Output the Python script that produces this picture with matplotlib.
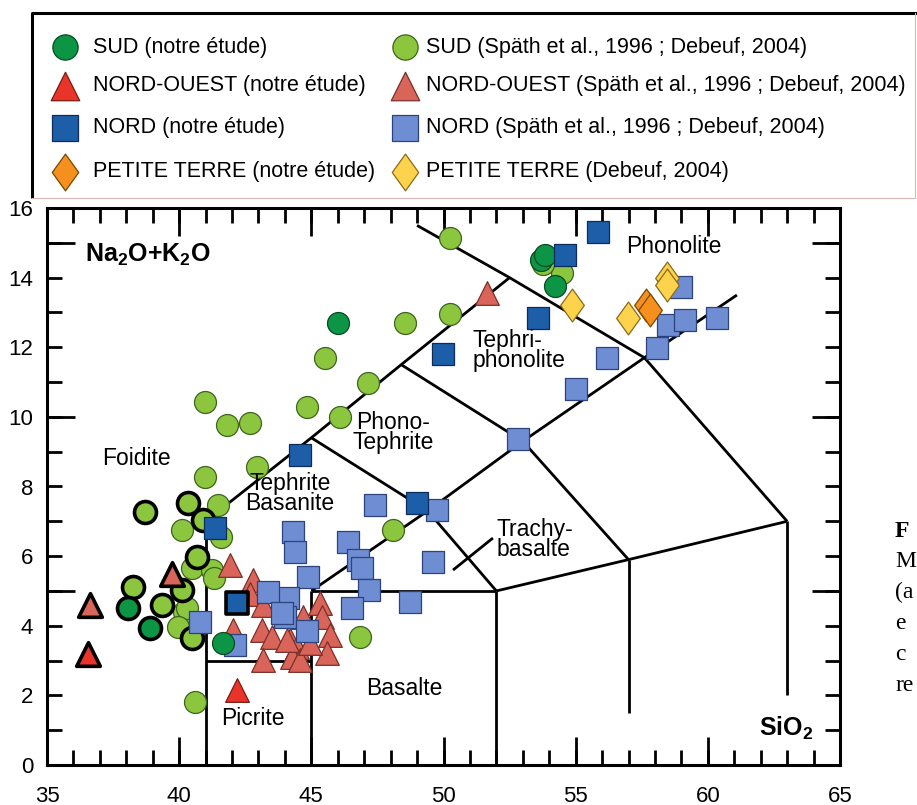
# TAS diagram (Na2O+K2O vs SiO2) - Mayotte samples
import matplotlib.pyplot as plt
from matplotlib.path import Path
from matplotlib.ticker import FuncFormatter

plt.rcParams['font.family'] = ['Liberation Sans', 'DejaVu Sans']
plt.rcParams['mathtext.fontset'] = 'custom'
plt.rcParams['mathtext.rm'] = 'Liberation Sans'
plt.rcParams['mathtext.bf'] = 'Liberation Sans:bold'

# ---- data (SiO2, Na2O+K2O) ----
# SUD (notre étude)
sud_x = [41.65, 46.0, 53.7, 53.85, 54.2]
sud_y = [3.5, 12.7, 14.5, 14.65, 13.75]
sud_hl_x = [38.05, 38.9]
sud_hl_y = [4.5, 3.94]

# SUD (Späth et al., 1996 ; Debeuf, 2004)
sud_lit_x = [40.97, 41.8, 42.67, 44.83, 46.08, 47.14, 42.94, 40.97, 41.47, 48.08,
             50.24, 48.54, 50.24, 45.5, 54.47, 53.75, 46.83, 40.1, 41.6, 40.5,
             41.25, 41.3, 40.2, 40.3, 39.95, 40.6]
sud_lit_y = [10.43, 9.77, 9.83, 10.29, 10.0, 10.98, 8.56, 8.28, 7.47, 6.75,
             15.14, 12.7, 12.96, 11.7, 14.14, 14.4, 3.68, 6.75, 6.55, 5.66,
             5.6, 5.37, 4.4, 4.5, 3.97, 1.81]
sud_lit_hl_x = [38.7, 40.33, 40.9, 40.67, 38.25, 40.1, 39.35, 40.5]
sud_lit_hl_y = [7.27, 7.53, 7.04, 5.98, 5.12, 5.03, 4.6, 3.65]

# NORD-OUEST (notre étude)
no_x = [42.2]
no_y = [2.15]
no_hl_x = [36.55]
no_hl_y = [3.2]

# NORD-OUEST (Späth et al., 1996 ; Debeuf, 2004)
no_lit_x = [41.92, 42.8, 42.68, 43.17, 42.03, 43.13, 43.5, 43.17, 44.19, 44.68,
            44.45, 44.26, 44.57, 45.32, 45.4, 45.7, 45.59, 44.94, 44.07, 51.63]
no_lit_y = [5.75, 5.32, 4.9, 4.6, 3.88, 3.88, 3.68, 3.02, 3.59, 4.25,
            3.39, 3.1, 3.02, 4.66, 4.25, 3.74, 3.22, 3.5, 3.59, 13.55]
no_lit_hl_x = [36.63, 39.73]
no_lit_hl_y = [4.6, 5.5]

# NORD (notre étude)
nord_x = [41.35, 44.57, 49.97, 53.56, 54.58, 55.83, 48.99]
nord_y = [6.8, 8.91, 11.81, 12.84, 14.65, 15.32, 7.53]
nord_hl_x = [42.18]
nord_hl_y = [4.66]

# NORD (Späth et al., 1996 ; Debeuf, 2004)
nord_lit_x = [47.4, 44.3, 44.38, 46.38, 46.76, 46.9, 49.74, 49.6, 44.87, 44.11,
              47.2, 46.53, 48.72, 44.0, 43.36, 43.9, 44.83, 40.78, 42.1, 56.17,
              58.06, 58.48, 59.12, 60.33, 59.0, 55.0, 52.8]
nord_lit_y = [7.47, 6.7, 6.12, 6.4, 5.89, 5.66, 7.33, 5.83, 5.4, 4.8,
              5.03, 4.51, 4.68, 4.25, 4.97, 4.37, 3.85, 4.1, 3.45, 11.7,
              11.98, 12.64, 12.79, 12.84, 13.73, 10.8, 9.37]

# PETITE TERRE (notre étude)
pt_x = [57.65, 57.8]
pt_y = [13.2, 13.08]

# PETITE TERRE (Debeuf, 2004)
pt_lit_x = [54.85, 56.97, 58.44, 58.44]
pt_lit_y = [13.22, 12.84, 14.0, 13.79]

# TAS field boundaries (Le Bas et al., 1986)
boundaries = [
    [(41, 0), (41, 7)],
    [(41, 3), (45, 3)],
    [(45, 0), (45, 5)],
    [(45, 5), (52, 5)],
    [(52, 0), (52, 5)],
    [(57, 1.5), (57, 5.9)],
    [(63, 2), (63, 7)],
    [(52, 5), (57, 5.9), (63, 7)],
    [(45, 5), (49.4, 7.3), (53, 9.3), (57.6, 11.7), (61.1, 13.5)],
    [(41, 7), (45, 9.4), (48.4, 11.5), (52.5, 14)],
    [(49.4, 7.3), (52, 5)],
    [(45, 9.4), (49.4, 7.3)],
    [(48.4, 11.5), (53, 9.3), (57, 5.9)],
    [(49, 15.5), (52.5, 14), (57.6, 11.7), (63, 7)],
    [(50.36, 5.6), (51.87, 6.52)],
]

field_names = ['Foidite', 'Tephrite\nBasanite', 'Phono-\nTephrite', 'Tephri-\nphonolite',
               'Phonolite', 'Trachy-\nbasalte', 'Basalte', 'Picrite']
field_x = [38.4, 44.2, 48.1, 51.1, 58.7, 52.0, 48.5, 42.8]
field_y = [8.8, 7.8, 9.55, 11.9, 14.9, 6.47, 2.2, 1.35]
field_ha = ['center', 'center', 'center', 'left', 'center', 'left', 'center', 'center']

# tall diamond marker
diamond = Path([(0, 1), (0.72, 0), (0, -1), (-0.72, 0), (0, 1)],
               [Path.MOVETO, Path.LINETO, Path.LINETO, Path.LINETO, Path.CLOSEPOLY])

# series styles: marker, face, edge, label
styles = {
    'sud': ('o', '#0c9545', '#0a4a22', 'SUD (notre étude)'),
    'sud_lit': ('o', '#8cc63f', '#3c6420', 'SUD (Späth et al., 1996 ; Debeuf, 2004)'),
    'no': ('^', '#e9342a', '#7a1a12', 'NORD-OUEST (notre étude)'),
    'no_lit': ('^', '#d9655a', '#7a3028', 'NORD-OUEST (Späth et al., 1996 ; Debeuf, 2004)'),
    'nord': ('s', '#1c5ea8', '#0d2c5a', 'NORD (notre étude)'),
    'nord_lit': ('s', '#6f8dd2', '#2c447e', 'NORD (Späth et al., 1996 ; Debeuf, 2004)'),
    'pt': (diamond, '#f5901e', '#7a4600', 'PETITE TERRE (notre étude)'),
    'pt_lit': (diamond, '#fdd34d', '#8a6a18', 'PETITE TERRE (Debeuf, 2004)'),
}
sizes = {'o': 250, 's': 250, '^': 290}

fig = plt.figure(figsize=(9.17, 8.05), dpi=100)
ax = fig.add_axes([47 / 917, 40 / 805, 793 / 917, 557 / 805])
ax.set_xlim(35, 65)
ax.set_ylim(0, 16)

for seg in boundaries:
    xs, ys = zip(*seg)
    ax.plot(xs, ys, color='black', lw=2.0, solid_capstyle='butt', zorder=2)


def draw(key, x, y, thick=False, z=3):
    m, fc, ec, _ = styles[key]
    s = sizes.get(m, 560) if isinstance(m, str) else 560
    ax.scatter(x, y, s=s, marker=m, facecolor=fc,
               edgecolor='black' if thick else ec,
               linewidths=2.6 if thick else 0.9, zorder=z, clip_on=False)


draw('sud_lit', sud_lit_x, sud_lit_y, z=3)
draw('sud_lit', sud_lit_hl_x, sud_lit_hl_y, thick=True, z=3)
draw('no_lit', no_lit_x, no_lit_y, z=4)
draw('no_lit', no_lit_hl_x, no_lit_hl_y, thick=True, z=4)
draw('nord_lit', nord_lit_x, nord_lit_y, z=5)
draw('pt_lit', pt_lit_x, pt_lit_y, z=5)
draw('sud', sud_x, sud_y, z=6)
draw('sud', sud_hl_x, sud_hl_y, thick=True, z=6)
draw('no', no_x, no_y, z=6)
draw('no', no_hl_x, no_hl_y, thick=True, z=6)
draw('nord', nord_x, nord_y, z=6)
draw('nord', nord_hl_x, nord_hl_y, thick=True, z=6)
draw('pt', pt_x, pt_y, z=6)

for name, fx, fy, ha in zip(field_names, field_x, field_y, field_ha):
    ax.text(fx, fy, name, ha=ha, va='center', fontsize=16.5, linespacing=0.85, zorder=7)

ax.text(36.44, 14.65, r'$\mathbf{Na_2O{+}K_2O}$', fontsize=18, ha='left', va='center')
ax.text(64.0, 1.06, r'$\mathbf{SiO_2}$', fontsize=18, ha='right', va='center')

# axes, ticks
for sp in ax.spines.values():
    sp.set_linewidth(2.2)
ax.set_xticks(range(35, 66, 5))
ax.set_xticks(range(35, 66), minor=True)
ax.set_yticks([5, 10, 15])
ax.set_yticks(range(0, 17), minor=True)
ax.yaxis.remove_overlapping_locs = False
ax.xaxis.remove_overlapping_locs = False
ax.yaxis.set_major_formatter(FuncFormatter(lambda v, p: ''))
ax.yaxis.set_minor_formatter(FuncFormatter(lambda v, p: f'{int(v)}' if int(v) % 2 == 0 else ''))
ax.xaxis.set_minor_formatter(FuncFormatter(lambda v, p: ''))
ax.tick_params(which='both', direction='in', top=True, right=True, width=2.0, labelsize=16)
ax.tick_params(which='major', length=20)
ax.tick_params(which='minor', length=11)
ax.tick_params(axis='x', which='major', pad=15)
ax.tick_params(axis='y', which='minor', pad=10, labelleft=True)

# ---- legend box (figure pixel coordinates) ----
lg = fig.add_axes([0, 0, 1, 1], zorder=-1)
lg.set_xlim(0, 917)
lg.set_ylim(805, 0)
lg.axis('off')
lg.plot([32, 32, 917], [198, 13, 13], color='black', lw=2.2, solid_capstyle='butt')
lg.plot([32, 915, 915], [198, 198, 13], color='#d8b8b0', lw=0.8)

leg_rows = [47, 86, 128, 172]
left_keys = ['sud', 'no', 'nord', 'pt']
right_keys = ['sud_lit', 'no_lit', 'nord_lit', 'pt_lit']
leg_sizes = {'o': 330, '^': 420, 's': 340}
for row_y, lk, rk in zip(leg_rows, left_keys, right_keys):
    for key, mx, tx in [(lk, 65, 93), (rk, 405, 426)]:
        m, fc, ec, label = styles[key]
        s = leg_sizes.get(m, 700) if isinstance(m, str) else 700
        lg.scatter([mx], [row_y], s=s, marker=m, facecolor=fc, edgecolor=ec, linewidths=0.9)
        lg.text(tx, row_y, label, fontsize=15.5, ha='left', va='center')

# caption fragment at right edge
cap_lines = ['F', 'M', '(a', 'e', 'c', 're']
cap_base = [537, 567, 598, 629, 660, 691]
for i, (t, yb) in enumerate(zip(cap_lines, cap_base)):
    lg.text(895, yb, t, fontsize=17, family='Liberation Serif',
            fontweight='bold' if i == 0 else 'normal', ha='left', va='baseline')

fig.savefig('out.png', dpi=100)
